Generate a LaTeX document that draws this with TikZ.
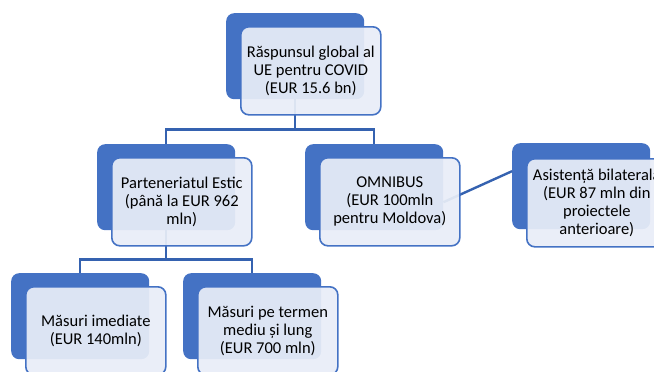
\documentclass[tikz,border=0pt]{standalone}
\usepackage{fontspec}
\setmainfont{Carlito}
\definecolor{backblue}{HTML}{4472C4}
\definecolor{frontfill}{HTML}{E8EDF7}
\definecolor{connblue}{HTML}{3562B0}
\begin{document}
\begin{tikzpicture}[x=1pt, y=-1pt, font=\fontsize{16.5}{18}\selectfont,
  back/.style={fill=backblue, rounded corners=8pt, minimum width=138pt,
    minimum height=86pt, inner sep=0pt, anchor=north west},
  front/.style={draw=backblue, line width=1.6pt, fill=frontfill, fill opacity=0.93,
    text opacity=1, rounded corners=8pt, minimum width=140pt, minimum height=88pt,
    inner sep=0pt, align=center, anchor=north west},
  conn/.style={draw=connblue, line width=2.4pt}]
\useasboundingbox (0,0) rectangle (654,372);
% back boxes
\node[back] (topb) at (226,13) {};
\node[back] (partb) at (97,144) {};
\node[back] (omnib) at (305,144) {};
\node[back] (asistb) at (512,143) {};
\node[back] (imedb) at (11,273) {};
\node[back] (termb) at (183,273) {};
% connectors
\draw[conn] (topb.south) -- ++(0,30) -| (partb.north);
\draw[conn] (topb.south) -- ++(0,30) -| (omnib.north);
\draw[conn] (partb.south) -- ++(0,29) -| (imedb.north);
\draw[conn] (partb.south) -- ++(0,29) -| (termb.north);
\draw[conn] ([yshift=-15pt]omnib.east) -- ([yshift=15pt]asistb.west);
% front boxes
\node[front] (topf) at ([shift={(14,13)}]topb.north west)
  {Răspunsul global al\\UE pentru COVID\\(EUR 15.6 bn)};
\node[front] (partf) at ([shift={(14,13)}]partb.north west)
  {Parteneriatul Estic\\(până la EUR 962\\mln)};
\node[front] (omnif) at ([shift={(14,13)}]omnib.north west)
  {OMNIBUS\\(EUR 100mln\\pentru Moldova)};
\node[front] (asistf) at ([shift={(14,15)}]asistb.north west)
  {Asistență bilaterală\\(EUR 87 mln din\\proiectele\\anterioare)};
\node[front] (imedf) at ([shift={(14,13)}]imedb.north west)
  {Măsuri imediate\\(EUR 140mln)};
\node[front] (termf) at ([shift={(14,13)}]termb.north west)
  {Măsuri pe termen\\mediu și lung\\(EUR 700 mln)};
\end{tikzpicture}
\end{document}
